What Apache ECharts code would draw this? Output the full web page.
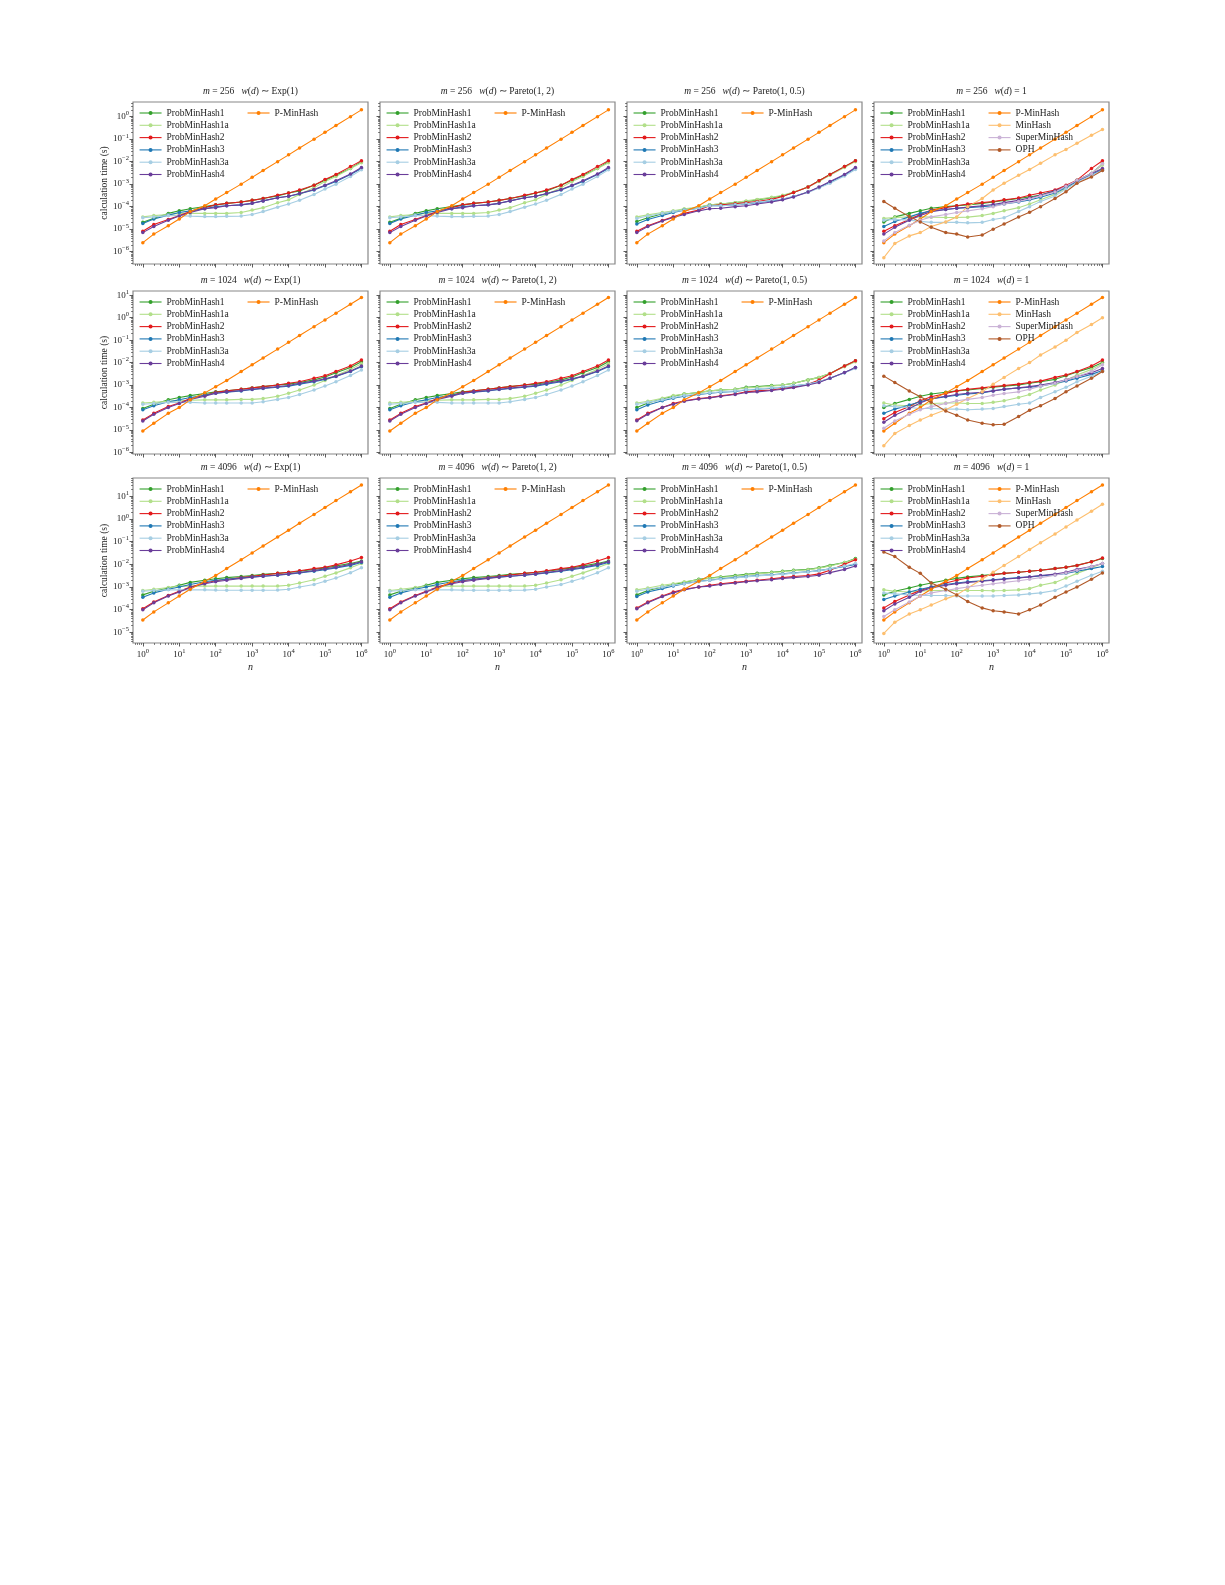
<!DOCTYPE html>
<html><head><meta charset="utf-8">
<script src="https://cdn.jsdelivr.net/npm/echarts@6/dist/echarts.min.js"></script>
<style>html,body{margin:0;padding:0;background:#fff}#c{width:1225px;height:1585px}</style>
</head><body><div id="c"></div>
<script>
const nValues = [1,2,5,10,20,50,100,200,500,1e3,2e3,5e3,1e4,2e4,5e4,1e5,2e5,5e5,1e6];
const seriesNames = ['ProbMinHash1','ProbMinHash1a','ProbMinHash2','ProbMinHash3','ProbMinHash3a','ProbMinHash4','P-MinHash','MinHash','SuperMinHash','OPH'];
const mValues = [256,1024,4096];
const distLabels = ['Exp(1)','Pareto(1, 2)','Pareto(1, 0.5)','1'];

// row 1 (m=256)
const r1c1 = {
 'ProbMinHash1':[2e-5,3e-5,5e-5,6.5e-5,8e-5,1e-4,1.2e-4,1.4e-4,1.6e-4,1.9e-4,2.3e-4,3e-4,4e-4,5e-4,9e-4,1.5e-3,2.5e-3,5e-3,1e-2],
 'ProbMinHash1a':[3.5e-5,4e-5,4.5e-5,5e-5,5e-5,5e-5,5e-5,5e-5,5.5e-5,7e-5,9e-5,1.5e-4,2e-4,3.5e-4,7e-4,1.3e-3,2.2e-3,5e-3,9e-3],
 'ProbMinHash2':[8e-6,1.6e-5,2.7e-5,4e-5,6e-5,9e-5,1.2e-4,1.4e-4,1.6e-4,1.9e-4,2.3e-4,3.2e-4,4e-4,5.5e-4,9e-4,1.6e-3,2.7e-3,6e-3,1.1e-2],
 'ProbMinHash3':[1.8e-5,2.8e-5,4.2e-5,5.5e-5,6.5e-5,8e-5,1e-4,1.1e-4,1.2e-4,1.4e-4,1.8e-4,2.5e-4,2.9e-4,3.7e-4,5.5e-4,8.5e-4,1.3e-3,2.7e-3,5e-3],
 'ProbMinHash3a':[3.2e-5,3.5e-5,4e-5,4e-5,3.8e-5,3.6e-5,3.6e-5,3.7e-5,3.8e-5,4.5e-5,6e-5,9.5e-5,1.3e-4,1.9e-4,3.5e-4,6e-4,1e-3,2.2e-3,4.3e-3],
 'ProbMinHash4':[7e-6,1.3e-5,2.5e-5,3.8e-5,5.5e-5,8e-5,9e-5,1.1e-4,1.2e-4,1.4e-4,1.8e-4,2.5e-4,2.9e-4,3.8e-4,5.8e-4,9e-4,1.4e-3,2.8e-3,5.5e-3],
 'P-MinHash':[2.5e-6,6e-6,1.4e-5,2.8e-5,6e-5,1.1e-4,2.2e-4,4.2e-4,1e-3,2e-3,4e-3,1e-2,2e-2,4e-2,1e-1,2e-1,4e-1,1,2]
};
const r1c2 = r1c1;
const r1c3 = {
 'ProbMinHash1':[2.2e-5,3.2e-5,4.8e-5,6e-5,7.5e-5,9e-5,1.2e-4,1.3e-4,1.5e-4,1.7e-4,2e-4,2.5e-4,3e-4,4.2e-4,7.5e-4,1.4e-3,2.7e-3,6e-3,1.1e-2],
 'ProbMinHash1a':[3.5e-5,4.3e-5,5.5e-5,6.5e-5,8e-5,9.5e-5,1.2e-4,1.3e-4,1.5e-4,1.8e-4,2.1e-4,2.6e-4,3.2e-4,4.5e-4,7.5e-4,1.3e-3,2.5e-3,5.5e-3,1e-2],
 'ProbMinHash2':[8e-6,1.4e-5,2.4e-5,3.5e-5,5e-5,7e-5,1.1e-4,1.2e-4,1.35e-4,1.5e-4,1.7e-4,2.1e-4,2.8e-4,4.2e-4,7.5e-4,1.4e-3,2.7e-3,6e-3,1.1e-2],
 'ProbMinHash3':[1.7e-5,2.7e-5,4e-5,5.5e-5,7e-5,8.5e-5,1.1e-4,1.1e-4,1.2e-4,1.3e-4,1.5e-4,1.8e-4,2.1e-4,2.8e-4,4.5e-4,7e-4,1.2e-3,2.5e-3,5e-3],
 'ProbMinHash3a':[3e-5,3.8e-5,5e-5,6e-5,7e-5,8.5e-5,1.1e-4,1.1e-4,1.2e-4,1.35e-4,1.55e-4,1.9e-4,2.2e-4,2.8e-4,4.3e-4,6.8e-4,1.1e-3,2.3e-3,4.5e-3],
 'ProbMinHash4':[7e-6,1.3e-5,2.3e-5,3.3e-5,4.5e-5,6.5e-5,8e-5,8.5e-5,1e-4,1.1e-4,1.3e-4,1.6e-4,2e-4,2.7e-4,4.5e-4,7.5e-4,1.3e-3,2.7e-3,5.5e-3],
 'P-MinHash':r1c1['P-MinHash']
};
const r1c4 = {
 'ProbMinHash1':[2.1e-5,3.5e-5,5e-5,6.5e-5,8.5e-5,1e-4,1.1e-4,1.2e-4,1.4e-4,1.6e-4,1.9e-4,2.3e-4,2.7e-4,3.3e-4,5e-4,8e-4,1.5e-3,3e-3,8e-3],
 'ProbMinHash1a':[3e-5,3.3e-5,3.5e-5,3.5e-5,3.4e-5,3.3e-5,3.3e-5,3.4e-5,4e-5,5e-5,6.5e-5,9e-5,1.3e-4,2e-4,3.5e-4,6.5e-4,1.3e-3,3e-3,7e-3],
 'ProbMinHash2':[8e-6,1.4e-5,2.7e-5,4.5e-5,7e-5,9e-5,1.1e-4,1.3e-4,1.5e-4,1.7e-4,2e-4,2.4e-4,3.2e-4,4e-4,5.5e-4,9e-4,1.5e-3,5e-3,1.1e-2],
 'ProbMinHash3':[1.3e-5,2.2e-5,3.5e-5,5e-5,6.5e-5,7.5e-5,8.5e-5,9e-5,1e-4,1.1e-4,1.3e-4,1.6e-4,2e-4,2.6e-4,4e-4,7e-4,1.3e-3,2.7e-3,4.5e-3],
 'ProbMinHash3a':[2.5e-5,2.7e-5,2.5e-5,2.2e-5,2e-5,2e-5,2e-5,1.9e-5,2e-5,2.7e-5,3.2e-5,6e-5,1e-4,1.7e-4,3e-4,6e-4,1.2e-3,2.5e-3,4e-3],
 'ProbMinHash4':[6e-6,1.2e-5,2.5e-5,4e-5,6e-5,7.5e-5,8.5e-5,9.5e-5,1.1e-4,1.25e-4,1.5e-4,1.9e-4,2.4e-4,3.2e-4,5e-4,8e-4,1.4e-3,3e-3,5e-3],
 'P-MinHash':r1c1['P-MinHash'],
 'MinHash':[5.4e-7,2.3e-6,5e-6,7e-6,1.3e-5,2.1e-5,3.5e-5,1e-4,2.3e-4,5.5e-4,1.1e-3,2.5e-3,4.5e-3,8.5e-3,2e-2,3.5e-2,6.5e-2,1.5e-1,2.7e-1],
 'SuperMinHash':[3e-6,7e-6,1.5e-5,2.5e-5,3.5e-5,4.5e-5,5.5e-5,6.5e-5,8e-5,1e-4,1.3e-4,1.7e-4,2.2e-4,3e-4,4.5e-4,8e-4,1.5e-3,3e-3,8e-3],
 'OPH':[1.7e-4,8.5e-5,3.6e-5,2.1e-5,1.2e-5,7e-6,6e-6,4.5e-6,5.5e-6,1e-5,1.7e-5,3.5e-5,5.6e-5,1e-4,2.3e-4,4.6e-4,1.1e-3,2.1e-3,4e-3]
};
// row 2 (m=1024)
const r2c1 = {
 'ProbMinHash1':[9e-5,1.4e-4,2.2e-4,2.8e-4,3.4e-4,4.2e-4,5e-4,5.5e-4,6.5e-4,7.5e-4,8.5e-4,1e-3,1.1e-3,1.3e-3,1.7e-3,2.3e-3,3.5e-3,6e-3,1.1e-2],
 'ProbMinHash1a':[1.6e-4,1.7e-4,1.9e-4,2e-4,2.1e-4,2.2e-4,2.2e-4,2.2e-4,2.3e-4,2.3e-4,2.5e-4,3.2e-4,4.3e-4,6e-4,1e-3,1.6e-3,2.7e-3,5e-3,9e-3],
 'ProbMinHash2':[2.8e-5,5.5e-5,1.1e-4,1.6e-4,2.5e-4,3.5e-4,4.8e-4,5.5e-4,6.5e-4,7.5e-4,8.5e-4,1e-3,1.2e-3,1.4e-3,2e-3,2.6e-3,4e-3,7e-3,1.3e-2],
 'ProbMinHash3':[8e-5,1.2e-4,1.8e-4,2.2e-4,2.8e-4,3.5e-4,4.3e-4,4.8e-4,5.5e-4,6.3e-4,7e-4,8e-4,9e-4,1.1e-3,1.4e-3,1.8e-3,2.4e-3,4e-3,6.5e-3],
 'ProbMinHash3a':[1.4e-4,1.5e-4,1.7e-4,1.7e-4,1.7e-4,1.6e-4,1.6e-4,1.6e-4,1.6e-4,1.6e-4,1.8e-4,2.3e-4,2.8e-4,3.8e-4,6e-4,9e-4,1.4e-3,2.7e-3,4.7e-3],
 'ProbMinHash4':[2.5e-5,5e-5,1e-4,1.5e-4,2.3e-4,3.2e-4,4.3e-4,5e-4,5.7e-4,6.5e-4,7.3e-4,8.5e-4,9.5e-4,1.2e-3,1.5e-3,1.9e-3,2.5e-3,4.2e-3,7e-3],
 'P-MinHash':[9e-6,2e-5,5.5e-5,1e-4,2.2e-4,4.5e-4,8.5e-4,1.6e-3,4e-3,8e-3,1.6e-2,4e-2,8e-2,1.6e-1,4e-1,8e-1,1.6,4,8]
};
const r2c2 = r2c1;
const r2c3 = {
 'ProbMinHash1':[1e-4,1.6e-4,2.4e-4,3.2e-4,4e-4,4.7e-4,5.5e-4,6e-4,6.5e-4,8e-4,8.5e-4,9.5e-4,1e-3,1.2e-3,1.7e-3,2.2e-3,3.3e-3,7e-3,1.2e-2],
 'ProbMinHash1a':[1.6e-4,1.9e-4,2.6e-4,3.4e-4,4e-4,4.7e-4,5.5e-4,6e-4,6.5e-4,7.5e-4,8e-4,9e-4,1e-3,1.2e-3,1.7e-3,2.2e-3,3.3e-3,6.5e-3,1.1e-2],
 'ProbMinHash2':[2.8e-5,5.5e-5,1e-4,1.5e-4,2e-4,2.5e-4,2.8e-4,3.3e-4,4e-4,5e-4,5.5e-4,6e-4,7e-4,8e-4,1.1e-3,1.7e-3,3.2e-3,7e-3,1.2e-2],
 'ProbMinHash3':[8e-5,1.3e-4,2e-4,2.6e-4,3.2e-4,3.8e-4,4.3e-4,4.8e-4,5.2e-4,6e-4,6.5e-4,7.2e-4,8e-4,9e-4,1.1e-3,1.4e-3,2e-3,3.5e-3,6e-3],
 'ProbMinHash3a':[1.4e-4,1.7e-4,2.2e-4,2.8e-4,3.4e-4,4e-4,4.5e-4,5e-4,5.5e-4,6.2e-4,6.7e-4,7.5e-4,8.2e-4,9.2e-4,1.1e-3,1.4e-3,2e-3,3.5e-3,5.5e-3],
 'ProbMinHash4':[2.6e-5,5e-5,1e-4,1.4e-4,1.9e-4,2.4e-4,2.7e-4,3.2e-4,3.8e-4,4.7e-4,5e-4,5.7e-4,6.5e-4,7.7e-4,1e-3,1.3e-3,2e-3,3.6e-3,6e-3],
 'P-MinHash':r2c1['P-MinHash']
};
const r2c4 = {
 'ProbMinHash1':[1e-4,1.5e-4,2.3e-4,3.2e-4,4e-4,4.8e-4,5.5e-4,6e-4,7e-4,8e-4,9e-4,1e-3,1.2e-3,1.4e-3,1.8e-3,2.6e-3,3.8e-3,6e-3,1e-2],
 'ProbMinHash1a':[1.6e-4,1.3e-4,1.2e-4,1.3e-4,1.5e-4,1.6e-4,1.6e-4,1.5e-4,1.5e-4,1.7e-4,2e-4,2.8e-4,3.8e-4,6e-4,1e-3,1.7e-3,2.8e-3,5e-3,9e-3],
 'ProbMinHash2':[3.2e-5,6e-5,1.1e-4,2e-4,3e-4,4.2e-4,5.5e-4,6.5e-4,7.5e-4,8.5e-4,9.5e-4,1.1e-3,1.3e-3,1.5e-3,2.2e-3,2.8e-3,4e-3,7e-3,1.3e-2],
 'ProbMinHash3':[5.5e-5,8.5e-5,1.3e-4,1.8e-4,2.4e-4,3e-4,3.5e-4,4e-4,4.5e-4,5.5e-4,6.5e-4,7.5e-4,8e-4,9e-4,1.2e-3,1.5e-3,2e-3,3e-3,4.5e-3],
 'ProbMinHash3a':[1.2e-4,1.1e-4,1e-4,9e-5,9e-5,8.5e-5,8.5e-5,8e-5,8.5e-5,9e-5,1.1e-4,1.4e-4,1.6e-4,2.8e-4,5e-4,8e-4,1.4e-3,2.5e-3,4e-3],
 'ProbMinHash4':[2.2e-5,4.5e-5,9e-5,1.6e-4,2.5e-4,3.2e-4,3.8e-4,4.3e-4,4.8e-4,5.5e-4,6.5e-4,7.5e-4,8.5e-4,1e-3,1.3e-3,1.7e-3,2.4e-3,3.5e-3,5.5e-3],
 'P-MinHash':r2c1['P-MinHash'],
 'MinHash':[2e-6,7e-6,1.6e-5,2.8e-5,4.5e-5,8e-5,1.4e-4,2.5e-4,5e-4,1.1e-3,2.2e-3,5.5e-3,1e-2,2.2e-2,5e-2,1e-1,2.2e-1,5e-1,1],
 'SuperMinHash':[1.2e-5,2.5e-5,5e-5,8e-5,1.1e-4,1.5e-4,2e-4,2.3e-4,2.8e-4,3.5e-4,4.2e-4,5e-4,6.5e-4,9e-4,1.2e-3,1.7e-3,2.4e-3,4e-3,8e-3],
 'OPH':[2.5e-3,1.3e-3,5.5e-4,3e-4,1.7e-4,7e-5,4.5e-5,2.8e-5,2e-5,1.7e-5,1.8e-5,4e-5,7.5e-5,1.2e-4,2.5e-4,5e-4,9e-4,2e-3,4e-3]
};
// row 3 (m=4096)
const r3c1 = {
 'ProbMinHash1':[4.5e-4,6.5e-4,9e-4,1.2e-3,1.6e-3,2e-3,2.3e-3,2.6e-3,2.9e-3,3.2e-3,3.6e-3,4e-3,4.4e-3,5e-3,6e-3,7e-3,8.5e-3,1.1e-2,1.4e-2],
 'ProbMinHash1a':[7e-4,8e-4,9.5e-4,1.1e-3,1.1e-3,1.1e-3,1.1e-3,1.1e-3,1.1e-3,1.1e-3,1.1e-3,1.1e-3,1.2e-3,1.5e-3,2.1e-3,3e-3,4.2e-3,7e-3,1.1e-2],
 'ProbMinHash2':[1.1e-4,2.2e-4,4.2e-4,6.5e-4,1e-3,1.5e-3,1.9e-3,2.2e-3,2.6e-3,3e-3,3.4e-3,4e-3,4.5e-3,5.2e-3,6.5e-3,7.5e-3,9.5e-3,1.4e-2,2e-2],
 'ProbMinHash3':[3.5e-4,5.5e-4,8e-4,1e-3,1.3e-3,1.7e-3,2e-3,2.2e-3,2.5e-3,2.8e-3,3e-3,3.3e-3,3.7e-3,4.2e-3,5e-3,5.8e-3,7e-3,9e-3,1.2e-2],
 'ProbMinHash3a':[6.5e-4,7e-4,7.5e-4,7.5e-4,7.5e-4,7.5e-4,7.3e-4,7.2e-4,7.2e-4,7.2e-4,7.2e-4,7.3e-4,8e-4,1e-3,1.3e-3,1.8e-3,2.5e-3,4.3e-3,7e-3],
 'ProbMinHash4':[1e-4,2e-4,4e-4,6e-4,9.5e-4,1.4e-3,1.7e-3,2e-3,2.4e-3,2.7e-3,3e-3,3.4e-3,3.8e-3,4.4e-3,5.3e-3,6.3e-3,7.5e-3,1e-2,1.3e-2],
 'P-MinHash':[3.5e-5,8e-5,2e-4,4e-4,8e-4,1.8e-3,3.2e-3,6.5e-3,1.6e-2,3.2e-2,6.5e-2,1.6e-1,3.2e-1,6.5e-1,1.6,3.2,6.5,16,32]
};
const r3c2 = r3c1;
const r3c3 = {
 'ProbMinHash1':[4.5e-4,7e-4,1e-3,1.3e-3,1.6e-3,2.2e-3,2.5e-3,2.8e-3,3.2e-3,3.6e-3,4e-3,4.5e-3,5e-3,5.5e-3,6e-3,7e-3,9e-3,1.2e-2,1.8e-2],
 'ProbMinHash1a':[7.5e-4,9e-4,1.2e-3,1.4e-3,1.7e-3,2.1e-3,2.4e-3,2.7e-3,3e-3,3.4e-3,3.8e-3,4.3e-3,4.7e-3,5.2e-3,5.8e-3,6.8e-3,8.5e-3,1.2e-2,1.7e-2],
 'ProbMinHash2':[1.2e-4,2.2e-4,4e-4,6e-4,8e-4,1e-3,1.2e-3,1.4e-3,1.6e-3,1.8e-3,2e-3,2.3e-3,2.6e-3,2.9e-3,3.2e-3,3.8e-3,5.5e-3,1e-2,1.6e-2],
 'ProbMinHash3':[3.8e-4,6e-4,8.5e-4,1.1e-3,1.4e-3,1.8e-3,2e-3,2.3e-3,2.6e-3,2.9e-3,3.2e-3,3.5e-3,3.8e-3,4.2e-3,4.7e-3,5.3e-3,6.3e-3,8e-3,1e-2],
 'ProbMinHash3a':[6.5e-4,8e-4,1e-3,1.2e-3,1.4e-3,1.7e-3,2e-3,2.2e-3,2.5e-3,2.8e-3,3.1e-3,3.4e-3,3.7e-3,4.1e-3,4.6e-3,5.2e-3,6.3e-3,8.5e-3,1.1e-2],
 'ProbMinHash4':[1.1e-4,2e-4,3.8e-4,5.5e-4,7.5e-4,1e-3,1.1e-3,1.3e-3,1.5e-3,1.7e-3,1.9e-3,2.1e-3,2.4e-3,2.6e-3,2.9e-3,3.3e-3,4.3e-3,6e-3,8.5e-3],
 'P-MinHash':r3c1['P-MinHash']
};
const r3c4 = {
 'ProbMinHash1':[4.5e-4,6.5e-4,9e-4,1.2e-3,1.5e-3,2e-3,2.4e-3,2.8e-3,3.2e-3,3.6e-3,4e-3,4.5e-3,5e-3,5.5e-3,6.5e-3,7.5e-3,9e-3,1.3e-2,1.8e-2],
 'ProbMinHash1a':[7.5e-4,6.5e-4,6e-4,6.5e-4,7e-4,7e-4,7e-4,7e-4,7e-4,6.8e-4,7e-4,7.5e-4,8.5e-4,1.2e-3,1.6e-3,2.5e-3,4e-3,7e-3,1.1e-2],
 'ProbMinHash2':[1.2e-4,2.3e-4,4.5e-4,7e-4,1e-3,1.5e-3,2e-3,2.5e-3,3e-3,3.5e-3,4e-3,4.5e-3,5e-3,5.5e-3,6.5e-3,7.5e-3,9e-3,1.3e-2,1.9e-2],
 'ProbMinHash3':[2.8e-4,4e-4,6e-4,8e-4,1e-3,1.3e-3,1.5e-3,1.7e-3,1.9e-3,2.1e-3,2.3e-3,2.6e-3,2.8e-3,3.1e-3,3.5e-3,4e-3,5e-3,6.5e-3,8e-3],
 'ProbMinHash3a':[5.5e-4,5e-4,4.5e-4,4.2e-4,4.2e-4,4.2e-4,4e-4,4e-4,4e-4,4e-4,4.2e-4,4.5e-4,5e-4,5.5e-4,7e-4,1.1e-3,1.8e-3,3.3e-3,5e-3],
 'ProbMinHash4':[9e-5,1.8e-4,3.5e-4,6.5e-4,9e-4,1.2e-3,1.4e-3,1.6e-3,1.8e-3,2e-3,2.2e-3,2.5e-3,2.8e-3,3.2e-3,3.7e-3,4.5e-3,6e-3,8e-3,1.1e-2],
 'P-MinHash':r3c1['P-MinHash'],
 'MinHash':[9e-6,2.8e-5,6.5e-5,1e-4,1.6e-4,3e-4,4.5e-4,9e-4,2.2e-3,4.5e-3,9e-3,2.2e-2,4.5e-2,9e-2,2.2e-1,4.5e-1,9e-1,2.2,4.5],
 'SuperMinHash':[5e-5,1e-4,2.2e-4,4e-4,5.5e-4,7e-4,8.5e-4,1e-3,1.2e-3,1.4e-3,1.6e-3,1.9e-3,2.2e-3,2.6e-3,3.3e-3,4.2e-3,5.5e-3,8e-3,1.1e-2],
 'OPH':[3.5e-2,2.2e-2,7.5e-3,4e-3,1.5e-3,8e-4,4.5e-4,2.3e-4,1.2e-4,9e-5,8e-5,6.5e-5,1e-4,1.6e-4,3.5e-4,6e-4,1e-3,2.2e-3,4.2e-3]
};
const panelData = [[r1c1,r1c2,r1c3,r1c4],[r2c1,r2c2,r2c3,r2c4],[r3c1,r3c2,r3c3,r3c4]];
const yTickExp = [[-6,-5,-4,-3,-2,-1,0],[-6,-5,-4,-3,-2,-1,0,1],[-5,-4,-3,-2,-1,0,1]];
const yRange = [[-6.55,0.65],[-6.07,1.19],[-5.47,1.81]];
const xTickExp = [0,1,2,3,4,5,6];

const colors = {'ProbMinHash1':'#33a02c','ProbMinHash1a':'#b2df8a','ProbMinHash2':'#e31a1c','ProbMinHash3':'#1f78b4','ProbMinHash3a':'#a6cee3','ProbMinHash4':'#6a3d9a','P-MinHash':'#ff7f00','MinHash':'#fdbf6f','SuperMinHash':'#cab2d6','OPH':'#b15928'};
const FONT = 'Liberation Serif';
const colLeft = [133,380,627,874], W = 235;
const rowTop = [102,291,478], rowH = [162,163,165];

function minorList(lo,hi){const r=[];for(let d=Math.floor(lo);d<=Math.ceil(hi);d++){for(let k=2;k<=9;k++){const v=d+Math.log10(k);if(v>lo&&v<hi)r.push(v);}}return r;}
function powLabel(v){const e=Math.round(v);return '{b|10}{s|'+(e<0?'\u2212'+(-e):e)+'}';}
const rich = {b:{fontFamily:FONT,fontSize:9,color:'#222'},s:{fontFamily:FONT,fontSize:6.5,color:'#222',verticalAlign:'top',padding:[0,0,6,0]}};

const grids=[],xAxes=[],yAxes=[],series=[],legends=[],titles=[];
const xr=[-0.27,6.18];
for(let r=0;r<3;r++)for(let c=0;c<4;c++){
  const g=grids.length, data=panelData[r][c];
  grids.push({left:colLeft[c],top:rowTop[r],width:W,height:rowH[r],show:true,borderColor:'#888',borderWidth:1.2,backgroundColor:'transparent'});
  const bottom=r===2, leftCol=c===0;
  const xBase={gridIndex:g,type:'value',position:'bottom',min:xr[0],max:xr[1],axisLine:{show:false,onZero:false},splitLine:{show:false}};
  xAxes.push(Object.assign({},xBase,{
    axisTick:{show:true,customValues:xTickExp,length:3.5,lineStyle:{color:'#333',width:0.8}},
    axisLabel:{show:bottom,customValues:xTickExp,formatter:powLabel,rich:rich,margin:5},
    name:bottom?'n':'',nameLocation:'middle',nameGap:19,nameTextStyle:{fontFamily:FONT,fontStyle:'italic',fontSize:10,color:'#222'}}));
  xAxes.push(Object.assign({},xBase,{
    axisTick:{show:true,customValues:minorList(xr[0],xr[1]),length:2,lineStyle:{color:'#333',width:0.6}},axisLabel:{show:false}}));
  const yr=yRange[r];
  const yBase={gridIndex:g,type:'value',position:'left',min:yr[0],max:yr[1],axisLine:{show:false,onZero:false},splitLine:{show:false}};
  yAxes.push(Object.assign({},yBase,{
    axisTick:{show:true,customValues:yTickExp[r],length:3.5,lineStyle:{color:'#333',width:0.8}},
    axisLabel:{show:leftCol,customValues:yTickExp[r],formatter:powLabel,rich:rich,margin:4},
    name:leftCol?'calculation time (s)':'',nameLocation:'middle',nameGap:24,nameTextStyle:{fontFamily:FONT,fontSize:9.5,color:'#222'}}));
  yAxes.push(Object.assign({},yBase,{
    axisTick:{show:true,customValues:minorList(yr[0],yr[1]),length:2,lineStyle:{color:'#333',width:0.6}},axisLabel:{show:false}}));
  const names=seriesNames.filter(n=>data[n]);
  names.forEach(n=>{
    series.push({name:n,type:'line',xAxisIndex:2*g,yAxisIndex:2*g,symbol:'circle',symbolSize:3.5,
      lineStyle:{width:1.1,color:colors[n]},itemStyle:{color:colors[n]},silent:true,animation:false,
      data:data[n].map((v,i)=>[Math.log10(nValues[i]),Math.log10(v)])});
  });
  const common={orient:'vertical',itemWidth:22,itemHeight:5,itemGap:2.3,padding:0,
    textStyle:{fontFamily:FONT,fontSize:9.5,color:'#222',lineHeight:10},selectedMode:false,lineStyle:{width:1.1}};
  legends.push(Object.assign({},common,{left:colLeft[c]+6,top:rowTop[r]+6,data:names.slice(0,6)}));
  legends.push(Object.assign({},common,{left:colLeft[c]+114,top:rowTop[r]+6,data:names.slice(6)}));
  const ts={fontFamily:FONT,fontSize:9.5,color:'#222',fontWeight:'normal'};
  titles.push({left:colLeft[c]+W/2,top:rowTop[r]-16,textAlign:'center',padding:0,
    text:'{i|m}{t| = '+mValues[r]+'   }{i|w}{t|(}{i|d}{t|) '+(c===3?'= 1':'\u223c '+distLabels[c])+'}',
    textStyle:{fontWeight:'normal',rich:{i:Object.assign({},ts,{fontStyle:'italic'}),t:ts}}});
}
const chart=echarts.init(document.getElementById('c'),null,{renderer:'canvas'});
chart.setOption({animation:false,backgroundColor:'#fff',title:titles,grid:grids,xAxis:xAxes,yAxis:yAxes,legend:legends,series:series});
</script></body></html>
